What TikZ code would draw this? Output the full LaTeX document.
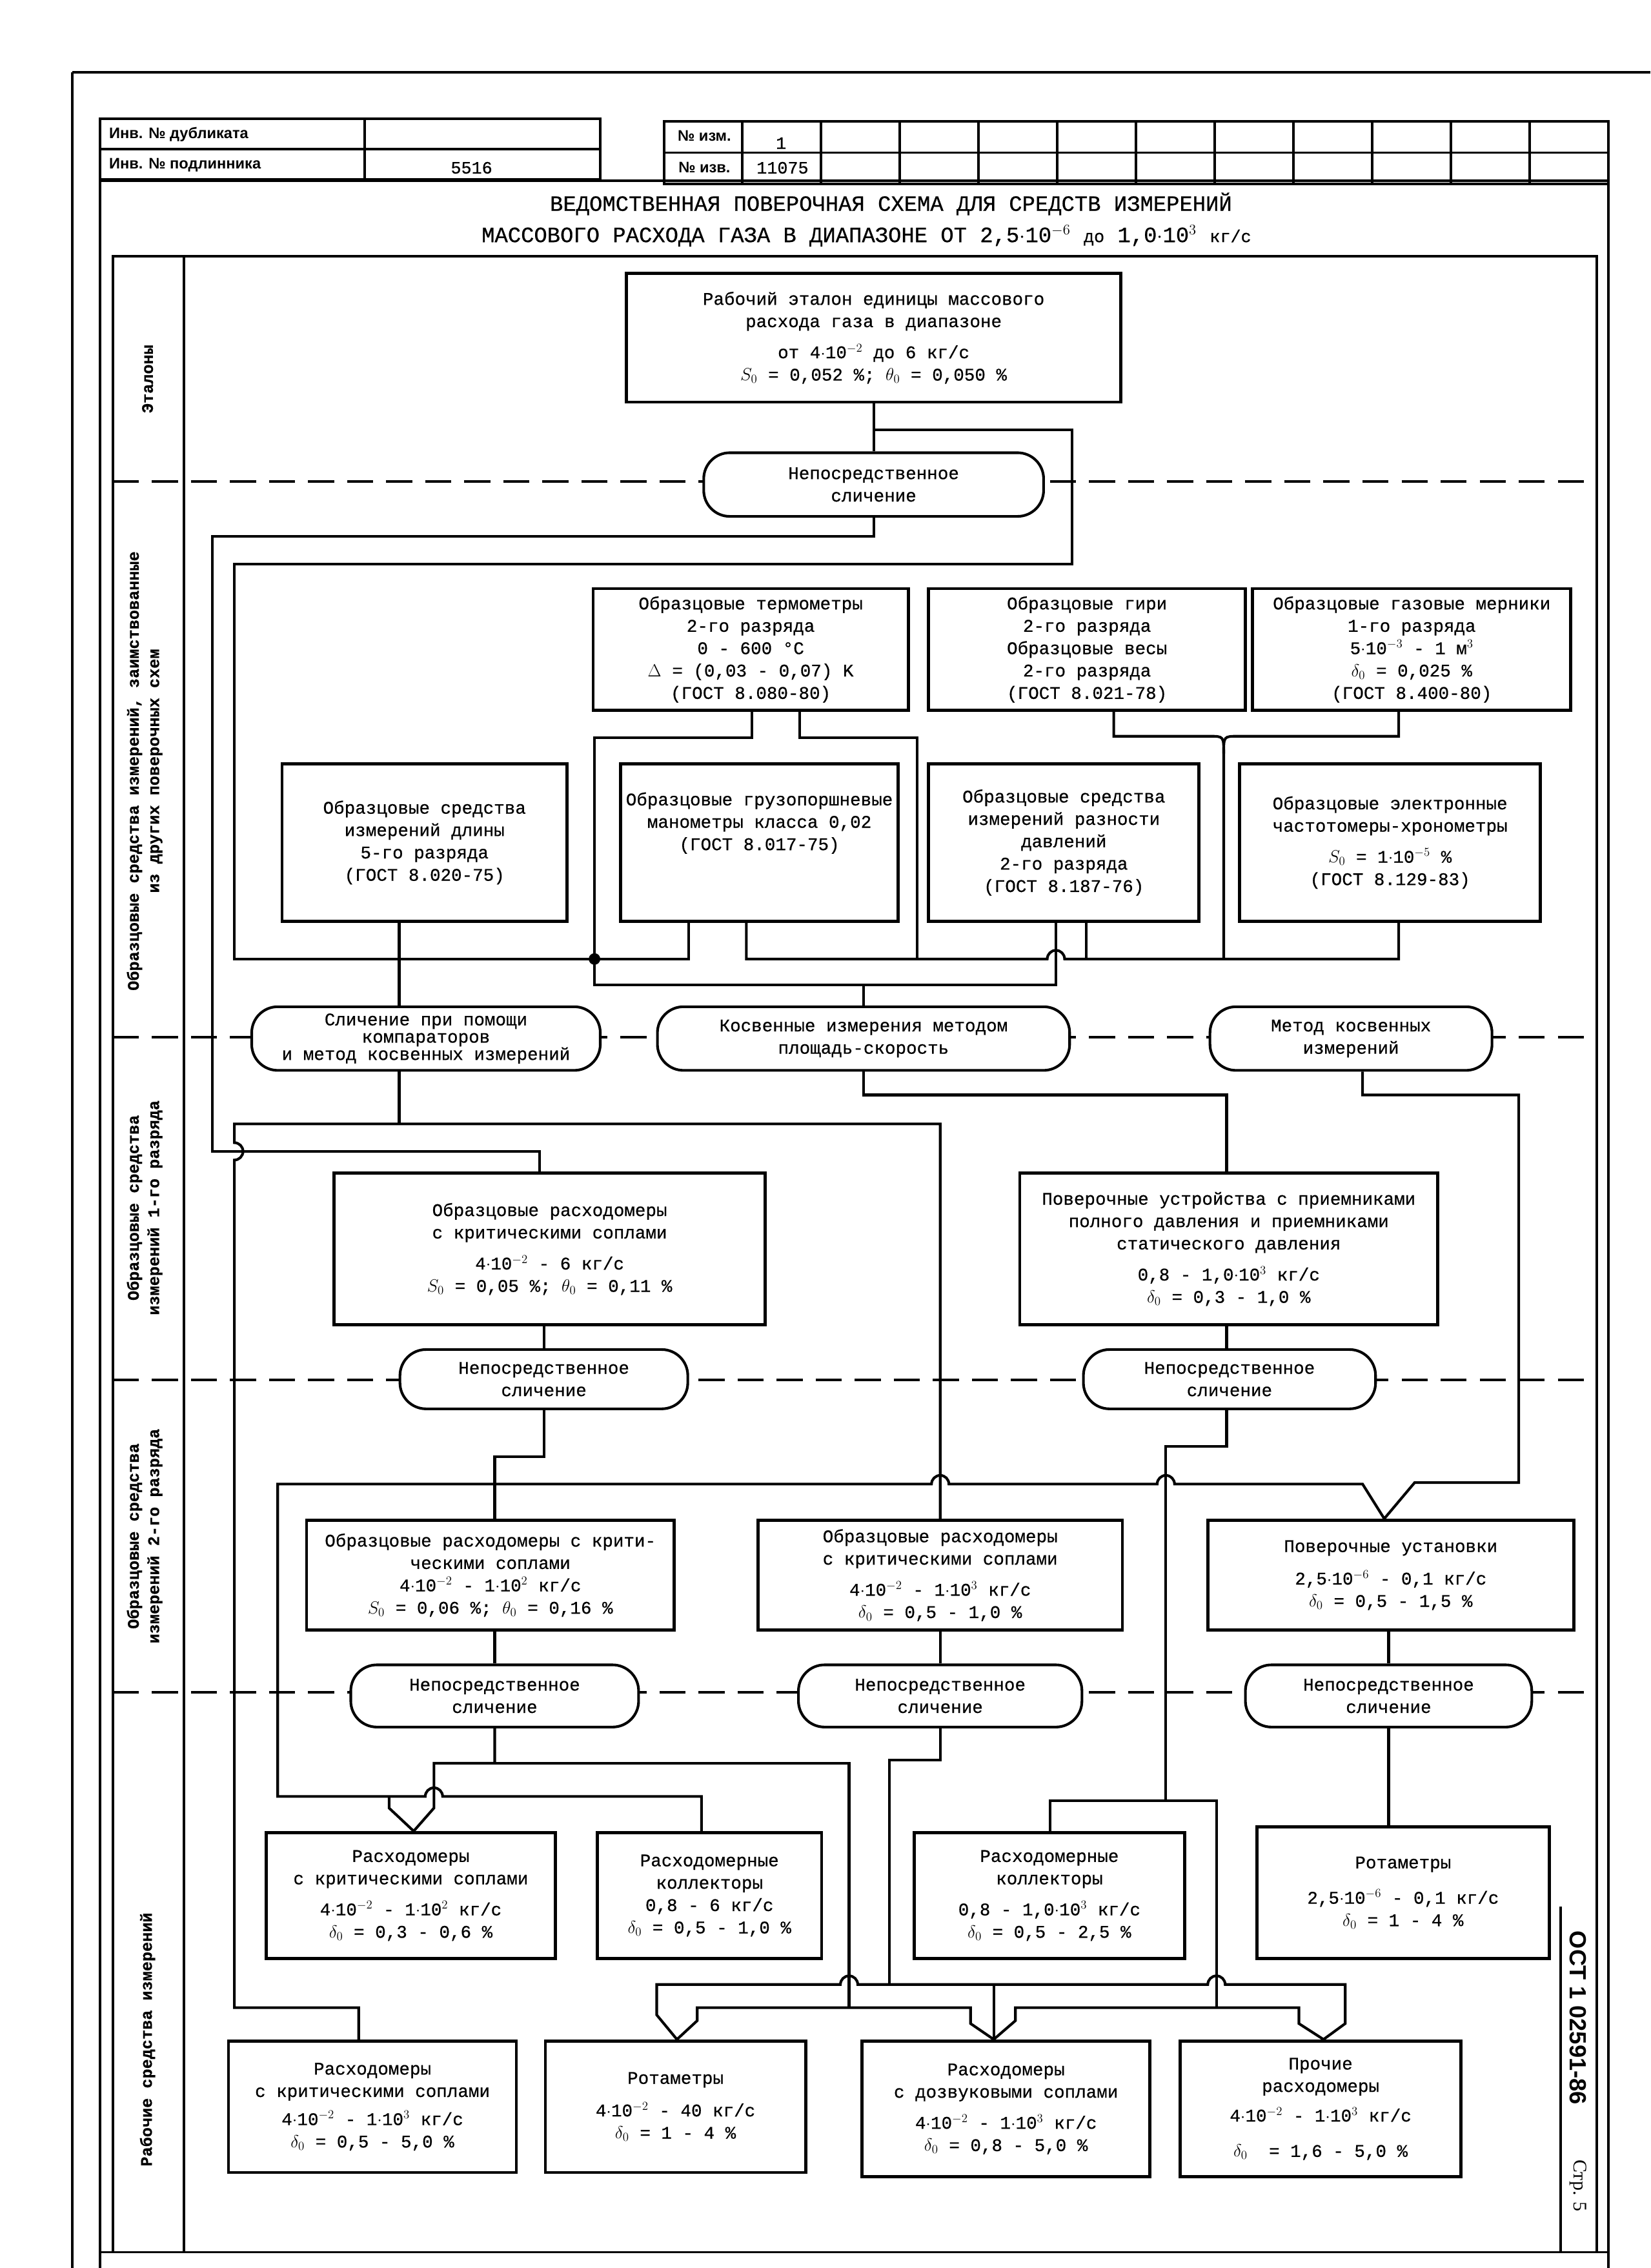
\documentclass[tikz,border=0pt]{standalone}
\usepackage{fontspec}
\newfontfamily\tw{Liberation Mono}[FakeBold=0.6]
\newfontfamily\hd{Liberation Sans}
\newfontfamily\sr{Liberation Serif}
\tikzset{
  frame/.style={line width=2.4pt},
  divider/.style={line width=2.4pt,dash pattern=on 0.9cm off 0.45cm},
  box/.style={draw,line width=3pt,fill=white,align=center,inner sep=1pt,font=\tw\fontsize{17.5}{22}\selectfont},
  oval/.style={box,rounded corners=0.9cm,line width=2.6pt},
  link/.style={line width=2.6pt},
  lbl/.style={rotate=90,align=center,font=\tw\bfseries\fontsize{16}{20}\selectfont},
  hdr/.style={anchor=west,font=\hd\bfseries\fontsize{15}{18}\selectfont},
  hval/.style={font=\tw\fontsize{17}{20}\selectfont},
  ttl/.style={font=\tw\fontsize{21.5}{26}\selectfont}
}

\begin{document}
\begin{tikzpicture}[x=0.05cm,y=-0.05cm]
\useasboundingbox (0,0) rectangle (1141,1568);

% page frame and header
\draw[frame] (50,50) -- (1141,50);
\draw[frame] (50,50) -- (50,1568);
\draw[frame] (69,82) -- (69,1568);
\draw[frame] (1112,84) -- (1112,1568);
\draw[frame] (69,125) -- (1112,125);
\draw[frame] (69,1557) -- (1112,1557);
\draw[frame] (69,82) rectangle (415,124);
\draw[frame] (69,103) -- (415,103);
\draw[frame] (252,82) -- (252,124);
\draw[frame] (459,84) rectangle (1112,127);
\draw[frame] (459,105.5) -- (1112,105.5);
\foreach \k in {0,...,10}
  \draw[frame] (513+54.45*\k,84) -- (513+54.45*\k,127);

\node[hdr] (dup) at (73,93) {Инв. № дубликата};
\node[hdr] (orig) at (73,114) {Инв. № подлинника};
\node[hval] (orignum) at (326,116) {5516};
\node[hdr,anchor=center] (chg) at (487,94) {№ изм.};
\node[hval] (chgnum) at (540,99) {1};
\node[hdr,anchor=center] (ntc) at (487,116) {№ изв.};
\node[hval] (ntcnum) at (541,116) {11075};

\node[ttl] (title1) at (616,141) {ВЕДОМСТВЕННАЯ ПОВЕРОЧНАЯ СХЕМА ДЛЯ СРЕДСТВ ИЗМЕРЕНИЙ};
\node[ttl] (title2) at (599,163) {МАССОВОГО РАСХОДА ГАЗА В ДИАПАЗОНЕ ОТ 2,5$\cdot$10$^{-6}$ {\fontsize{17}{20}\selectfont до} 1,0$\cdot$10$^{3}$ {\fontsize{17}{20}\selectfont кг/с}};

% scheme frame, levels
\draw[frame] (78,177) rectangle (1104,1557);
\draw[frame] (127,177) -- (127,1557);
\foreach \y in {333,717,954,1170}
  \draw[divider] (78,\y) -- (1104,\y);
\draw[frame] (1079,1318) -- (1079,1557);

\node[lbl] (lvl1) at (102,262) {Эталоны};
\node[lbl] (lvl2) at (100,533) {Образцовые средства измерений, заимствованные\\из других поверочных схем};
\node[lbl] (lvl3) at (100,835) {Образцовые средства\\измерений 1-го разряда};
\node[lbl] (lvl4) at (100,1062) {Образцовые средства\\измерений 2-го разряда};
\node[lbl] (lvl5) at (102,1410) {Рабочие средства измерений};

\node[font=\hd\bfseries\fontsize{23}{26}\selectfont,rotate=-90] (ost) at (1091,1395) {ОСТ 1 02591-86};
\node[font=\sr\fontsize{19}{22}\selectfont,rotate=-90] (page) at (1091,1511) {Стр. 5};

% standard
\node[box,minimum width=17.1cm,minimum height=4.45cm] (E) at (604,233.5)
  {Рабочий эталон единицы массового\\расхода газа в диапазоне\\[0.3cm]от 4$\cdot$10$^{-2}$ до 6 кг/с\\$S_0$ = 0,052 \%;  $\theta_0$ = 0,050 \%};
\node[oval,minimum width=11.75cm,minimum height=2.2cm] (O1) at (604,335) {Непосредственное\\сличение};

% borrowed standards
\node[box,minimum width=10.9cm,minimum height=4.2cm] (T1) at (519,449)
  {Образцовые термометры\\2-го разряда\\0 - 600 °C\\$\Delta$ = (0,03 - 0,07) K\\(ГОСТ 8.080-80)};
\node[box,minimum width=10.95cm,minimum height=4.2cm] (T2) at (751.5,449)
  {Образцовые гири\\2-го разряда\\Образцовые весы\\2-го разряда\\(ГОСТ 8.021-78)};
\node[box,minimum width=11cm,minimum height=4.2cm] (T3) at (976,449)
  {Образцовые газовые мерники\\1-го разряда\\5$\cdot$10$^{-3}$ - 1 м$^{3}$\\$\delta_0$ = 0,025 \%\\(ГОСТ 8.400-80)};
\node[box,minimum width=9.85cm,minimum height=5.45cm] (M1) at (293.5,582.5)
  {Образцовые средства\\измерений длины\\5-го разряда\\(ГОСТ 8.020-75)};
\node[box,minimum width=9.6cm,minimum height=5.45cm] (M2) at (525,582.5)
  {Образцовые грузопоршневые\\манометры класса 0,02\\(ГОСТ 8.017-75)\\[0.7cm]\mbox{}};
\node[box,minimum width=9.35cm,minimum height=5.45cm] (M3) at (735.5,582.5)
  {Образцовые средства\\измерений разности\\давлений\\2-го разряда\\(ГОСТ 8.187-76)};
\node[box,minimum width=10.4cm,minimum height=5.45cm] (M4) at (961,582.5)
  {Образцовые электронные\\частотомеры-хронометры\\[0.3cm]$S_0$ = 1$\cdot$10$^{-5}$ \%\\(ГОСТ 8.129-83)};

\node[oval,minimum width=12.05cm,minimum height=2.2cm,font=\tw\fontsize{17.5}{17}\selectfont] (O2) at (294.5,718)
  {Сличение при помощи\\компараторов\\и метод косвенных измерений};
\node[oval,minimum width=14.25cm,minimum height=2.2cm] (O3) at (597,718)
  {Косвенные измерения методом\\площадь-скорость};
\node[oval,minimum width=9.75cm,minimum height=2.2cm] (O4) at (934,718)
  {Метод косвенных\\измерений};

% 1st rank
\node[box,minimum width=14.9cm,minimum height=5.25cm] (R1) at (380,863.5)
  {Образцовые расходомеры\\с критическими соплами\\[0.3cm]4$\cdot$10$^{-2}$ - 6 кг/с\\$S_0$ = 0,05 \%;  $\theta_0$ = 0,11 \%};
\node[box,minimum width=14.45cm,minimum height=5.25cm] (R3) at (849.5,863.5)
  {Поверочные устройства с приемниками\\полного давления и приемниками\\статического давления\\[0.3cm]0,8 - 1,0$\cdot$10$^{3}$ кг/с\\$\delta_0$ = 0,3 - 1,0 \%};
\node[oval,minimum width=9.95cm,minimum height=2.05cm] (O5) at (376,953.5) {Непосредственное\\сличение};
\node[oval,minimum width=10.1cm,minimum height=2.05cm] (O6) at (850,953.5) {Непосредственное\\сличение};

% 2nd rank
\node[box,minimum width=12.7cm,minimum height=3.8cm] (S1) at (339,1089)
  {Образцовые расходомеры с крити-\\ческими соплами\\4$\cdot$10$^{-2}$ - 1$\cdot$10$^{2}$ кг/с\\$S_0$ = 0,06 \%;  $\theta_0$ = 0,16 \%};
\node[box,minimum width=12.6cm,minimum height=3.8cm] (S2) at (650,1089)
  {Образцовые расходомеры\\с критическими соплами\\[0.3cm]4$\cdot$10$^{-2}$ - 1$\cdot$10$^{3}$ кг/с\\$\delta_0$ = 0,5 - 1,0 \%};
\node[box,minimum width=12.65cm,minimum height=3.8cm] (S3) at (961.5,1089)
  {Поверочные установки\\[0.35cm]2,5$\cdot$10$^{-6}$ - 0,1 кг/с\\$\delta_0$ = 0,5 - 1,5 \%};
\node[oval,minimum width=9.95cm,minimum height=2.15cm] (O7) at (342,1172.5) {Непосредственное\\сличение};
\node[oval,minimum width=9.8cm,minimum height=2.15cm] (O8) at (650,1172.5) {Непосредственное\\сличение};
\node[oval,minimum width=9.9cm,minimum height=2.15cm] (O9) at (960,1172.5) {Непосредственное\\сличение};

% working instruments
\node[box,minimum width=10cm,minimum height=4.35cm] (C1) at (284,1310.5)
  {Расходомеры\\с критическими соплами\\[0.3cm]4$\cdot$10$^{-2}$ - 1$\cdot$10$^{2}$ кг/с\\$\delta_0$ = 0,3 - 0,6 \%};
\node[box,minimum width=7.75cm,minimum height=4.35cm] (C2) at (490.5,1310.5)
  {Расходомерные\\коллекторы\\0,8 - 6 кг/с\\$\delta_0$ = 0,5 - 1,0 \%};
\node[box,minimum width=9.35cm,minimum height=4.35cm] (C3) at (725.5,1310.5)
  {Расходомерные\\коллекторы\\[0.3cm]0,8 - 1,0$\cdot$10$^{3}$ кг/с\\$\delta_0$ = 0,5 - 2,5 \%};
\node[box,minimum width=10.1cm,minimum height=4.55cm] (C4) at (970,1308.5)
  {Ротаметры\\[0.45cm]2,5$\cdot$10$^{-6}$ - 0,1 кг/с\\$\delta_0$ = 1 - 4 \%};
\node[box,minimum width=9.95cm,minimum height=4.55cm] (B1) at (257.5,1456.5)
  {Расходомеры\\с критическими соплами\\[0.2cm]4$\cdot$10$^{-2}$ - 1$\cdot$10$^{3}$ кг/с\\$\delta_0$ = 0,5 - 5,0 \%};
\node[box,minimum width=9cm,minimum height=4.55cm] (B2) at (467,1456.5)
  {Ротаметры\\[0.35cm]4$\cdot$10$^{-2}$ - 40 кг/с\\$\delta_0$ = 1 - 4 \%};
\node[box,minimum width=9.95cm,minimum height=4.7cm] (B3) at (695.5,1458)
  {Расходомеры\\с дозвуковыми соплами\\[0.3cm]4$\cdot$10$^{-2}$ - 1$\cdot$10$^{3}$ кг/с\\$\delta_0$ = 0,8 - 5,0 \%};
\node[box,minimum width=9.7cm,minimum height=4.7cm] (B4) at (913,1458)
  {Прочие\\расходомеры\\[0.25cm]4$\cdot$10$^{-2}$ - 1$\cdot$10$^{3}$ кг/с\\[0.45cm]$\delta_0$ \ = 1,6 - 5,0 \%};

% junction points
\coordinate (tapE) at (604,297);
\coordinate (dotA) at (411,663);
\coordinate (busK) at (0,681);
\coordinate (busM) at (0,663);
\coordinate (jP) at (276,777);
\coordinate (jC) at (269,1242);
\coordinate (jR) at (806,1245);
\coordinate (jS) at (342,1219);
\coordinate (jW) at (687,1372);

% connectors: standard
\draw[link] (E.south) -- (O1.north);
\draw[link] (tapE) -| (741,390) -| (162,663) -| (M2.south -| 476,0);
\draw[link] (O1.south) |- (147,371) |- (373,796) -- (R1.north -| 373,0);

% connectors: borrowed standards
\draw[link] (T1.south -| 520,0) |- (411,510) -- (411,681) -| (M3.south -| 730,0);
\draw[link] (T1.south -| 553,0) |- (634,510) -- (634,663);
\fill (dotA) circle[radius=0.2cm];
\draw[link] (M1.south -| 276,0) -- (O2.north -| 276,0);
\draw[link] (M2.south -| 516,0) |- (724,663) arc[start angle=180,end angle=0,radius=0.3cm] -| (M4.south -| 967,0);
\draw[link] (M3.south -| 751,0) -- (751,663);
\draw[link] (T2.south -| 770,0) |- (836,509) .. controls (846,509) .. (846,521) -- (846,663);
\draw[link] (T3.south -| 967,0) |- (856,509) .. controls (846,509) .. (846,521);
\draw[link] (O3.north) -- (O3.north |- busK);
\draw[link] (O4.north -| 933,0) -- (O4.north -| 933,0 |- busM);

% connectors: 1st rank
\draw[link] (O2.south -| 276,0) -- (jP);
\draw[link] (S2.north) -- (650,777) -- (162,777) -- (162,790)
  arc[start angle=90,end angle=-90,radius=0.3cm] |- (248,1388) -- (B1.north -| 248,0);
\draw[link] (O3.south) |- (848,757) -- (R3.north -| 848,0);
\draw[link] (O4.south -| 942,0) |- (1050,757) |- (978,1025) -- (S3.north -| 957,0);
\draw[link] (R1.south -| 376,0) -- (O5.north);
\draw[link] (R3.south -| 848,0) -- (O6.north -| 848,0);

% connectors: 2nd rank
\draw[link] (O5.south) |- (342,1007) -- (S1.north -| 342,0);
\draw[link] (S3.north -| 957,0) -- (942,1026) -- (812,1026)
  arc[start angle=0,end angle=180,radius=0.3cm] -- (656,1026)
  arc[start angle=0,end angle=180,radius=0.3cm] -- (192,1026) -- (192,1242) -- (294,1242)
  arc[start angle=180,end angle=0,radius=0.3cm] -- (485,1242) -- (C2.north -| 485,0);
\draw[link] (jC) -- (269,1250) -- (C1.north -| 286,0);
\draw[link] (S1.south -| 342,0) -- (O7.north);
\draw[link] (S2.south) -- (O8.north);
\draw[link] (S3.south -| 960,0) -- (O9.north);
\draw[link] (O6.south -| 848,0) |- (806,1000) |- (726,1245) -- (C3.north -| 726,0);
\draw[link] (jR) -| (841,1388);
\draw[link] (B3.north -| 687,0) -- (702,1397) |- (898,1388) -- (898,1399) -- (B4.north -| 915,0);

% connectors: working instruments
\draw[link] (O7.south) |- (300,1219) -- (300,1250) -- (C1.north -| 286,0);
\draw[link] (jS) -- (587,1219) -- (587,1388);
\draw[link] (B2.north -| 468,0) -- (482,1397) |- (671,1388) -- (671,1399) -- (B3.north -| 687,0);
\draw[link] (O8.south) |- (615,1217) -- (615,1372);
\draw[link] (B2.north -| 468,0) -- (454,1393) |- (581,1372)
  arc[start angle=180,end angle=0,radius=0.3cm] -- (835,1372)
  arc[start angle=180,end angle=0,radius=0.3cm] -- (930,1372) -- (930,1399) -- (B4.north -| 915,0);
\draw[link] (jW) -- (B3.north -| 687,0);
\draw[link] (O9.south) -- (C4.north -| 960,0);
\end{tikzpicture}
\end{document}
